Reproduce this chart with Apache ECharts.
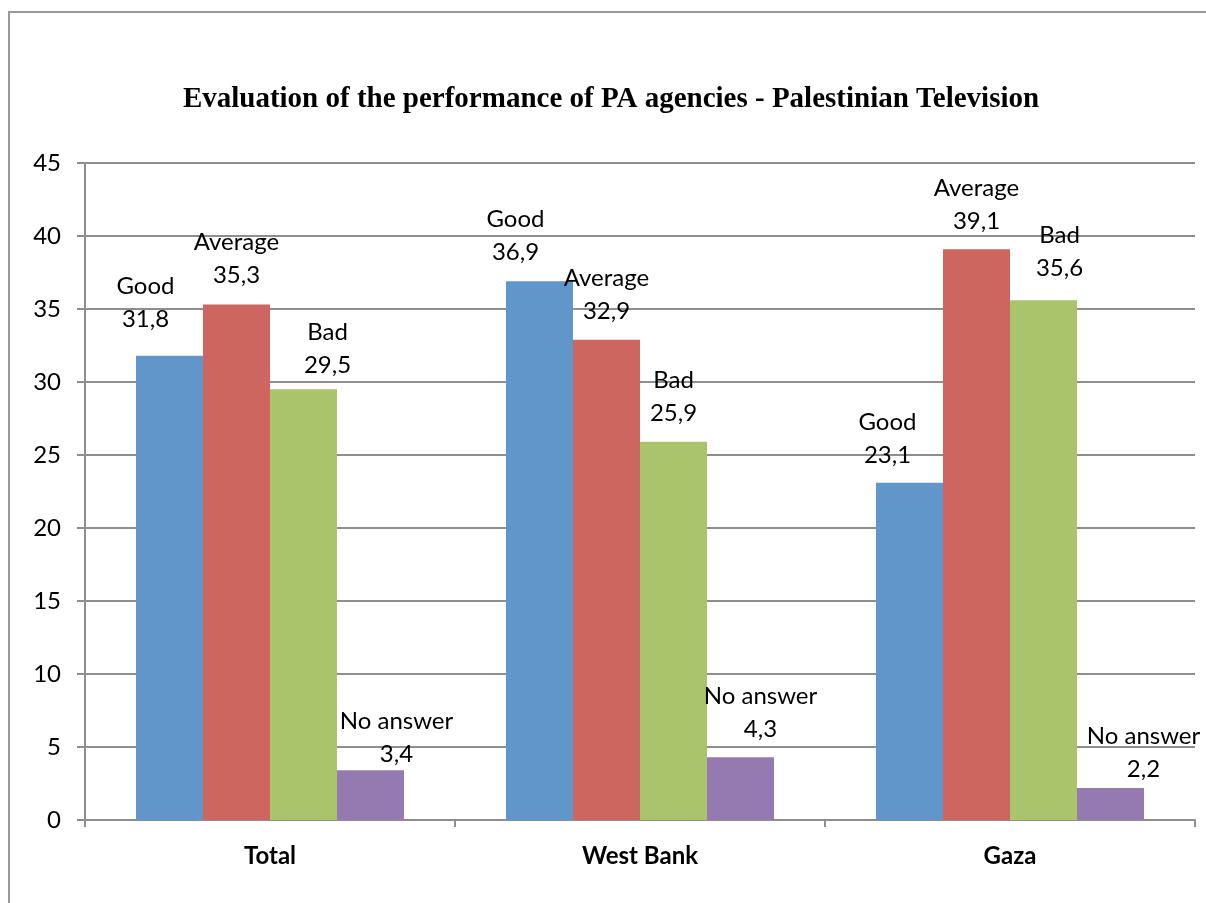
<!DOCTYPE html>
<html>
<head>
<meta charset="utf-8">
<script src="https://cdn.jsdelivr.net/npm/echarts@6/dist/echarts.min.js"></script>
<style>
  html, body { margin: 0; padding: 0; background: #fff; }
  #chart { width: 1206px; height: 903px; }
</style>
</head>
<body>
<div id="chart"></div>
<script>
const regions = ['Total', 'West Bank', 'Gaza']
const seriesNames = ['Good', 'Average', 'Bad', 'No answer']
const good = [31.8, 36.9, 23.1]
const average = [35.3, 32.9, 39.1]
const bad = [29.5, 25.9, 35.6]
const noAnswer = [3.4, 4.3, 2.2]
const yTicks = [0, 5, 10, 15, 20, 25, 30, 35, 40, 45]

const colors = ['#6096c9', '#cd665f', '#aac46c', '#957ab1']

// label offsets, [dx, dy] per region
const labelShift = [
  [[-24, -20], [-24, -12], [-22, -11]],
  [[0, -13], [0, -12], [0, -11]],
  [[24, -8], [0, -12], [16, -15]],
  [[26, 0], [20, -11], [33, -2]]
]

const chart = echarts.init(document.getElementById('chart'))
const font = 'Lato, "Open Sans", sans-serif'
const gray = '#8e8e8e'

const makeSeries = (name, values, idx) => ({
  name,
  type: 'bar',
  barWidth: 67,
  barGap: '0%',
  itemStyle: { color: colors[idx] },
  label: {
    show: true,
    position: 'top',
    distance: 0,
    fontFamily: font,
    fontSize: 24,
    lineHeight: 33,
    color: '#000',
    formatter: (p) => p.seriesName + '\n' + String(p.value).replace('.', ',')
  },
  data: values.map((v, i) => ({
    value: v,
    label: { offset: labelShift[idx][i] }
  }))
})

chart.setOption({
  animation: false,
  backgroundColor: '#fff',
  title: {
    text: 'Evaluation of the performance of PA agencies - Palestinian Television',
    left: 606,
    top: 80,
    textAlign: 'center',
    textStyle: {
      fontFamily: '"Liberation Serif", "DejaVu Serif", serif',
      fontWeight: 'bold',
      fontSize: 29,
      color: '#000'
    }
  },
  graphic: [{
    type: 'rect',
    shape: { x: 9, y: 12, width: 1300, height: 1000 },
    style: { fill: 'none', stroke: '#9a9a9a', lineWidth: 2 },
    silent: true
  }],
  grid: { left: 85, right: 11, top: 163, bottom: 83, containLabel: false },
  xAxis: {
    type: 'category',
    data: regions,
    axisLine: { lineStyle: { color: gray, width: 2 } },
    axisTick: { show: true, length: 7, lineStyle: { color: gray, width: 2 } },
    axisLabel: {
      margin: 24,
      fontFamily: font,
      fontSize: 24,
      fontWeight: 'bold',
      color: '#000'
    }
  },
  yAxis: {
    type: 'value',
    min: yTicks[0],
    max: yTicks[yTicks.length - 1],
    interval: 5,
    axisLine: { show: true, lineStyle: { color: gray, width: 2 } },
    axisTick: { show: true, length: 8, lineStyle: { color: gray, width: 2 } },
    splitLine: { show: true, lineStyle: { color: gray, width: 2 } },
    axisLabel: {
      margin: 24,
      fontFamily: font,
      fontSize: 24,
      color: '#000'
    }
  },
  series: [
    makeSeries(seriesNames[0], good, 0),
    makeSeries(seriesNames[1], average, 1),
    makeSeries(seriesNames[2], bad, 2),
    makeSeries(seriesNames[3], noAnswer, 3)
  ]
})
</script>
</body>
</html>
